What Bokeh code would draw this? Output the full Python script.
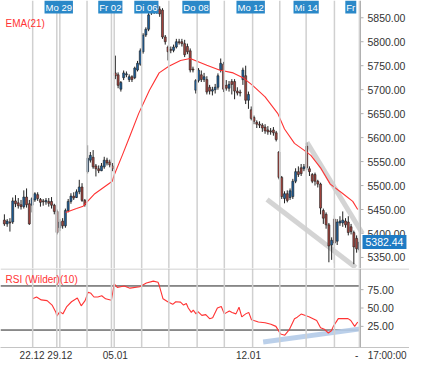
from bokeh.plotting import figure
from bokeh.layouts import column
from bokeh.models import Range1d, FixedTicker, Label, ColumnDataSource, Span
from bokeh.core.properties import value
from bokeh.embed import file_html
from bokeh.resources import INLINE

# ---------------- data ----------------
opens = [5428, 5420, 5424, 5424, 5468, 5464, 5460, 5456, 5476, 5462,
         5459, 5470, 5481, 5471, 5468, 5466, 5467, 5467, 5459, 5446,
         5412, 5426, 5416, 5448, 5467, 5478, 5475, 5487, 5497, 5469,
         5529, 5553, 5559, 5541, 5535, 5531, 5539, 5553, 5549, 5541,
         5735, 5731, 5701, 5725, 5731, 5721, 5727, 5725, 5741, 5753,
         5779, 5814, 5826, 5860, 5872, 5862, 5868, 5866, 5810, 5789,
         5784, 5782, 5789, 5800, 5800, 5796, 5790, 5781, 5743, 5699,
         5719, 5731, 5721, 5721, 5705, 5697, 5700, 5705, 5741, 5753,
         5709, 5703, 5717, 5717, 5697, 5695, 5721, 5729, 5678, 5658,
         5642, 5632, 5628, 5626, 5622, 5616, 5614, 5616, 5610, 5570,
         5517, 5473, 5483, 5475, 5477, 5509, 5529, 5537, 5535, 5582,
         5535, 5523, 5523, 5509, 5503, 5448, 5440, 5418, 5376, 5430,
         5384, 5422, 5422, 5426, 5424, 5414, 5402, 5390, 5366]
highs = [5440, 5430, 5432, 5475, 5480, 5474, 5470, 5490, 5494, 5470,
         5476, 5486, 5486, 5474, 5472, 5474, 5474, 5476, 5462, 5450,
         5430, 5432, 5452, 5472, 5484, 5486, 5492, 5512, 5505, 5472,
         5584, 5570, 5574, 5545, 5542, 5547, 5560, 5558, 5554, 5547,
         5771, 5736, 5718, 5740, 5738, 5732, 5730, 5748, 5760, 5786,
         5818, 5830, 5862, 5876, 5878, 5882, 5874, 5870, 5814, 5792,
         5790, 5794, 5806, 5806, 5806, 5804, 5796, 5786, 5748, 5722,
         5745, 5740, 5735, 5728, 5710, 5706, 5712, 5734, 5765, 5758,
         5720, 5718, 5722, 5722, 5705, 5700, 5746, 5750, 5696, 5665,
         5646, 5636, 5634, 5630, 5628, 5624, 5620, 5622, 5614, 5572,
         5520, 5488, 5490, 5494, 5514, 5536, 5540, 5545, 5545, 5590,
         5540, 5526, 5527, 5512, 5506, 5452, 5444, 5422, 5392, 5438,
         5430, 5436, 5446, 5432, 5436, 5420, 5406, 5396, 5388]
lows = [5416, 5414, 5404, 5420, 5455, 5452, 5450, 5452, 5454, 5418,
        5444, 5466, 5468, 5456, 5458, 5460, 5456, 5452, 5440, 5398,
        5405, 5410, 5412, 5444, 5462, 5470, 5474, 5482, 5466, 5456,
        5525, 5548, 5535, 5519, 5526, 5530, 5535, 5542, 5538, 5530,
        5722, 5703, 5696, 5720, 5726, 5716, 5716, 5722, 5738, 5750,
        5775, 5810, 5822, 5856, 5858, 5858, 5852, 5806, 5794, 5761,
        5776, 5778, 5786, 5794, 5790, 5768, 5774, 5736, 5736, 5692,
        5715, 5716, 5716, 5690, 5690, 5688, 5692, 5700, 5736, 5695,
        5698, 5696, 5690, 5680, 5688, 5686, 5710, 5670, 5660, 5636,
        5628, 5620, 5620, 5612, 5608, 5606, 5606, 5604, 5592, 5513,
        5472, 5463, 5465, 5470, 5472, 5505, 5518, 5520, 5530, 5532,
        5520, 5505, 5500, 5496, 5440, 5420, 5410, 5340, 5345, 5338,
        5376, 5416, 5414, 5412, 5396, 5398, 5336, 5360, 5362]
closes = [5420, 5426, 5422, 5468, 5462, 5458, 5456, 5476, 5460, 5420,
          5473, 5483, 5473, 5465, 5466, 5469, 5463, 5459, 5446, 5402,
          5424, 5416, 5448, 5467, 5478, 5474, 5487, 5497, 5469, 5460,
          5557, 5563, 5539, 5535, 5531, 5541, 5553, 5547, 5543, 5535,
          5729, 5709, 5715, 5735, 5733, 5727, 5721, 5745, 5755, 5781,
          5814, 5826, 5856, 5872, 5862, 5876, 5858, 5810, 5800, 5779,
          5782, 5789, 5800, 5798, 5796, 5773, 5779, 5741, 5741, 5719,
          5741, 5721, 5727, 5695, 5697, 5700, 5705, 5729, 5755, 5701,
          5703, 5711, 5711, 5697, 5693, 5693, 5741, 5678, 5690, 5640,
          5634, 5628, 5626, 5620, 5614, 5612, 5612, 5610, 5596, 5517,
          5477, 5483, 5469, 5489, 5509, 5529, 5523, 5525, 5539, 5537,
          5529, 5509, 5509, 5503, 5453, 5432, 5418, 5374, 5386, 5380,
          5424, 5426, 5428, 5418, 5402, 5404, 5372, 5368, 5382]

ema_idx = [22.1, 26.0, 28.4, 32.6, 38.9, 39.6, 42.5, 45.3, 48.4, 52.3, 55.8,
           59.3, 63.5, 67.0, 73.0, 77.5, 82.5, 86.0, 89.5, 94.0, 98.6, 101.0,
           104.6, 108.0, 110.5, 114.0, 117.5, 122.1, 125.6, 127.4]
ema_val = [5444, 5452, 5457, 5483, 5509, 5522, 5563, 5604, 5650, 5699, 5735,
           5749, 5761, 5765, 5751, 5741, 5735, 5725, 5709, 5685, 5650, 5618,
           5588, 5574, 5563, 5537, 5503, 5483, 5467, 5450]

rsi_idx = [10.2, 11.6, 13.3, 15.4, 17.2, 18.6, 18.9, 20.0, 21.1, 22.5, 24.2,
           26.3, 27.7, 29.1, 30.2, 31.2, 32.3, 33.7, 35.1, 36.5, 38.6, 39.6,
           40.7, 43.2, 45.3, 48.8, 51.2, 53.7, 55.4, 55.8, 57.2, 58.9, 60.7,
           61.8, 63.5, 64.6, 65.6, 66.3, 67.4, 68.1, 69.1, 69.8, 71.2, 72.6,
           74.0, 75.1, 76.8, 78.2, 79.3, 81.1, 82.1, 83.5, 84.6, 85.6, 87.0,
           88.1, 89.1, 91.6, 94.0, 96.1, 97.9, 99.6, 101.1, 102.8, 104.6,
           105.6, 107.0, 109.8, 112.6, 114.0, 115.4, 116.8, 117.9, 118.6,
           120.4, 122.1, 123.9, 124.9, 126.3, 127.4]
rsi_val = [62.5, 65, 61, 60, 54, 44, 39, 45, 42, 52, 58.5, 63.5, 53, 60, 71.5,
           70, 65, 65, 66.7, 62.5, 60.5, 83, 78, 80, 77, 79, 84, 86.6, 85, 81,
           62.5, 58.5, 55, 58.5, 58, 54, 56, 50, 44, 47, 42, 45, 40, 41, 35.5,
           36.7, 50, 52, 42, 46, 44, 42, 51, 38, 42, 44, 34, 31, 30, 28, 25,
           14.5, 13, 21, 35.5, 37.5, 41.7, 38, 33, 23, 21, 16, 19, 25, 35.5,
           35.5, 35.5, 33, 25, 31]
rsi_levels = [80, 20]

price_ticks = [5350, 5400, 5450, 5500, 5550, 5600, 5650, 5700, 5750, 5800, 5850]
rsi_ticks = [25, 50, 75]

day_lines = [10.2, 18.9, 20.0, 29.8, 38.6, 39.6, 49.5, 59.3, 69.5, 79.3, 89.5,
             99.3, 108.8, 119.0, 128.0]
day_label_idx = [19.6, 38.2, 51.2, 69.1, 88.8, 108.8, 124.9]
day_label_txt = ["Mo 29", "Fr 02", "Di 06", "Do 08", "Mo 12", "Mi 14", "Fr"]
date_ticks = [10, 20, 40, 88, 127, 138]
date_labels = ["22.12", "29.12", "05.01", "12.01", "-", "17:00:00"]

trend_upper_idx = [109.1, 129.1]
trend_upper_val = [5590, 5400]
trend_lower_idx = [94.7, 126.7]
trend_lower_val = [5471, 5329]
rsi_trend_idx = [93.3, 128.4]
rsi_trend_val = [3.8, 21.6]

last_price = 5382.44

# ---------------- layout constants ----------------
FONT = "Liberation Sans"
W = 409            # whole width
DATA_W = 360       # width of the plotting region left of the price axis
H_MAIN = 268
H_RSI = 79
X0, X1 = -1.4, 128.4
UPP = (X1 - X0) / DATA_W          # data units per pixel
X_END = X0 + W * UPP
AX = X1                            # position of the price axis line
P_RANGE = (5327, 5886)
R_RANGE = (-3.75, 103.75)

x_range = Range1d(X0, X_END)

idx = list(range(len(closes)))
src = ColumnDataSource(dict(
    x=idx, o=opens, h=highs, l=lows, c=closes,
    top=[max(a, b) for a, b in zip(opens, closes)],
    bot=[min(a, b) for a, b in zip(opens, closes)],
    col=["#1d5f9c" if c >= o else "#a3433d" for o, c in zip(opens, closes)],
))


def right_axis(fig, ticks):
    fig.add_layout(Span(location=AX, dimension="height", line_color="#b0b0b0", line_width=1))
    fig.segment(x0=[AX] * len(ticks), y0=ticks, x1=[AX + 3 * UPP] * len(ticks), y1=ticks,
                line_color="#b0b0b0", line_width=1)
    fig.text(x=[AX + 7 * UPP] * len(ticks), y=ticks, text=[f"{t:.2f}" for t in ticks],
             text_font=value(FONT), text_font_size=value("10.5px"), text_color="#333333",
             text_baseline="middle", text_align="left")


def day_grid(fig):
    for d in day_lines:
        fig.add_layout(Span(location=d, dimension="height", line_color="#d0d0d0", line_width=1.5))


# ---------------- main price panel ----------------
p = figure(frame_width=W, frame_height=H_MAIN, x_range=x_range, y_range=Range1d(*P_RANGE),
           output_backend="svg", toolbar_location=None, x_axis_location=None,
           y_axis_location=None, min_border=0)
p.outline_line_color = None
p.grid.visible = False
day_grid(p)
right_axis(p, price_ticks)

p.line(trend_upper_idx, trend_upper_val, line_color="#cfcfcf", line_width=5, line_alpha=0.9)
p.line(trend_lower_idx, trend_lower_val, line_color="#cfcfcf", line_width=5, line_alpha=0.9)

p.segment(x0="x", y0="l", x1="x", y1="h", source=src, line_color="#222222", line_width=1)
p.vbar(x="x", width=0.72, top="top", bottom="bot", source=src, fill_color="col",
       line_color="#222222", line_width=0.6)

p.line(ema_idx, ema_val, line_color="#ff3333", line_width=1.1)

p.add_layout(Label(x=5, y=H_MAIN - 17, x_units="screen", y_units="screen",
                   text="EMA(21)", text_font=FONT, text_font_size="10px",
                   text_color="#ff3333", text_baseline="top"))

for xv, t in zip(day_label_idx, day_label_txt):
    p.add_layout(Label(x=xv, y=H_MAIN, y_units="screen", text=t, text_font=FONT,
                       text_font_size="9.5px", text_color="white", text_align="center",
                       text_baseline="top", background_fill_color="#2a88c8", padding=1))

p.add_layout(Label(x=AX + 2 * UPP, y=last_price, text=f"{last_price:.2f}",
                   text_font=FONT, text_font_size="10.5px", text_color="white",
                   text_baseline="middle", text_align="left",
                   background_fill_color="#1f7bc4", padding=3))

# ---------------- RSI panel ----------------
p2 = figure(frame_width=W, frame_height=H_RSI, x_range=x_range, y_range=Range1d(*R_RANGE),
            output_backend="svg", toolbar_location=None, y_axis_location=None, min_border=0)
p2.outline_line_color = None
p2.grid.visible = False
day_grid(p2)
p2.add_layout(Span(location=R_RANGE[1] - 0.7, dimension="width", line_color="#c4c4c4", line_width=1))
right_axis(p2, rsi_ticks)

axx = p2.xaxis[0]
axx.ticker = FixedTicker(ticks=date_ticks)
axx.major_label_overrides = {t: s for t, s in zip(date_ticks, date_labels)}
axx.major_label_text_font = FONT
axx.major_label_text_font_size = "10px"
axx.major_label_text_color = "#333333"
axx.axis_line_color = "#c4c4c4"
axx.major_tick_line_color = None
axx.minor_tick_line_color = None
axx.major_tick_out = 0
axx.major_tick_in = 0
axx.major_label_standoff = 2

for lv in rsi_levels:
    p2.line([X0, AX], [lv, lv], line_color="#222222", line_width=1)

p2.line(rsi_trend_idx, rsi_trend_val, line_color="#b4cbe8", line_width=5, line_alpha=0.9)
p2.line(rsi_idx, rsi_val, line_color="#ff3333", line_width=1.1)

p2.add_layout(Label(x=5, y=H_RSI - 5, x_units="screen", y_units="screen",
                    text="RSI (Wilder)(10)", text_font=FONT, text_font_size="10px",
                    text_color="#ff3333", text_baseline="top"))

layout = column(p, p2, spacing=0)
open("out.html", "w").write(file_html(layout, INLINE))
